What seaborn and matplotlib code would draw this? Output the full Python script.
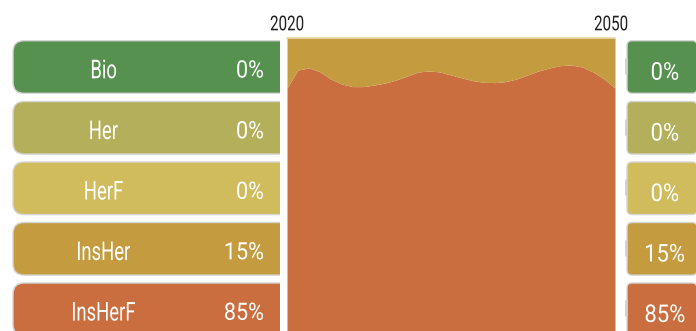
import matplotlib
matplotlib.use("Agg")
import matplotlib.pyplot as plt
from matplotlib import font_manager
from matplotlib.font_manager import FontProperties
from matplotlib.patches import FancyBboxPatch, PathPatch
from matplotlib.textpath import TextPath
import matplotlib.transforms as mtransforms
import numpy as np
import pandas as pd
import seaborn as sns

# ---- data -------------------------------------------------------------
categories = ["Bio", "Her", "HerF", "InsHer", "InsHerF"]
colors = ["#56914f", "#b3af5a", "#d0bb5d", "#c49c3f", "#ca6e3f"]

years = list(range(2020, 2051))
share_bio = [0.0] * 31
share_her = [0.0] * 31
share_herf = [0.0] * 31
share_insher = [0.150, 0.096, 0.090, 0.101, 0.123, 0.138, 0.146, 0.146, 0.141, 0.135,
                0.126, 0.114, 0.102, 0.099, 0.102, 0.111, 0.120, 0.128, 0.133, 0.134,
                0.131, 0.123, 0.111, 0.099, 0.090, 0.083, 0.081, 0.087, 0.102, 0.123,
                0.150]
share_insherf = [round(1 - v, 3) for v in share_insher]

df = pd.DataFrame({"year": years, "Bio": share_bio, "Her": share_her,
                   "HerF": share_herf, "InsHer": share_insher,
                   "InsHerF": share_insherf})

# ---- style ------------------------------------------------------------
sns.set_theme(style="white")
available = {f.name for f in font_manager.fontManager.ttflist}
family = "Roboto" if "Roboto" in available else "DejaVu Sans"
plt.rcParams["font.family"] = [family, "DejaVu Sans"]

W, H = 696, 331
fig = plt.figure(figsize=(W / 100, H / 100), dpi=100)


def px_axes(x0, y0, x1, y1, z=0):
    ax = fig.add_axes([x0 / W, 1 - y1 / H, (x1 - x0) / W, (y1 - y0) / H], zorder=z)
    ax.set_axis_off()
    return ax


def narrow_text(ax, x, yc, s, size, sx, ha="center", color="white", weight="normal"):
    """Horizontally condensed text, vertically centred on cap height (pixel coords)."""
    fp = FontProperties(family=family, weight=weight)
    tp = TextPath((0, 0), s, size=size, prop=fp)
    cap = TextPath((0, 0), "H", size=size, prop=fp).get_extents().height
    ext = tp.get_extents()
    w = ext.width * sx
    if ha == "center":
        x0 = x - w / 2
    elif ha == "right":
        x0 = x - w
    else:
        x0 = x
    tr = (mtransforms.Affine2D().translate(-ext.x0, 0).scale(sx, -1)
          .translate(x0, yc + cap / 2) + ax.transData)
    ax.add_patch(PathPatch(tp, transform=tr, fc=color, ec="none", lw=0))


row_top = [40.7, 101.5, 162.0, 222.5, 283.0]
row_h = 52.6

# ---- left panel: category boxes with 2020 share ----------------------
axl = px_axes(0, 0, 280, H)
axl.set_xlim(0, 280)
axl.set_ylim(H, 0)
start = df.iloc[0]
for cat, col, top in zip(categories, colors, row_top):
    box = FancyBboxPatch((13, top), 320, row_h,
                         boxstyle="round,pad=0,rounding_size=11",
                         fc=col, ec="#d6d6d6", lw=1.0, clip_on=True)
    axl.add_patch(box)
    yc = top + row_h / 2 + 2
    narrow_text(axl, 104, yc, cat, 26, 0.71)
    narrow_text(axl, 263, yc, f"{round(start[cat] * 100):.0f}%", 24, 0.9, ha="right")

# ---- middle panel: stacked shares over time ---------------------------
axm = px_axes(287, 38, 615, 371)
order = ["InsHerF", "InsHer", "HerF", "Her", "Bio"]
axm.stackplot(df["year"], [df[c] for c in order],
              colors=[colors[categories.index(c)] for c in order], lw=0)
axm.set_xlim(2020, 2050)
axm.set_ylim(0, 1)
axm.plot([2020, 2050], [1, 1], color="#e6d3a0", lw=1.2, clip_on=False)

# ---- right panel: 2050 share ------------------------------------------
axr = px_axes(622, 0, W, H)
axr.set_xlim(622, W)
axr.set_ylim(H, 0)
end = df.iloc[-1]
for cat, col, top in zip(categories, colors, row_top):
    box = FancyBboxPatch((627, top), 70, row_h,
                         boxstyle="round,pad=0,rounding_size=5",
                         fc=col, ec="#d6d6d6", lw=1.0, clip_on=True)
    axr.add_patch(box)
    axr.plot([625.5, 625.5], [top + 17, top + 33], color="#cfcfcf", lw=2,
             solid_capstyle="butt")
    narrow_text(axr, 665, top + row_h / 2 + 4, f"{round(end[cat] * 100):.0f}%", 24.5, 0.9)

# ---- year labels above the timeline -----------------------------------
axt = px_axes(0, 0, W, H, z=5)
axt.set_xlim(0, W)
axt.set_ylim(H, 0)
narrow_text(axt, 287, 23, str(years[0]), 20.5, 0.74, color="#1e1e1e")
narrow_text(axt, 611, 23, str(years[-1]), 20.5, 0.74, color="#1e1e1e")

fig.savefig("out.png", dpi=100)
